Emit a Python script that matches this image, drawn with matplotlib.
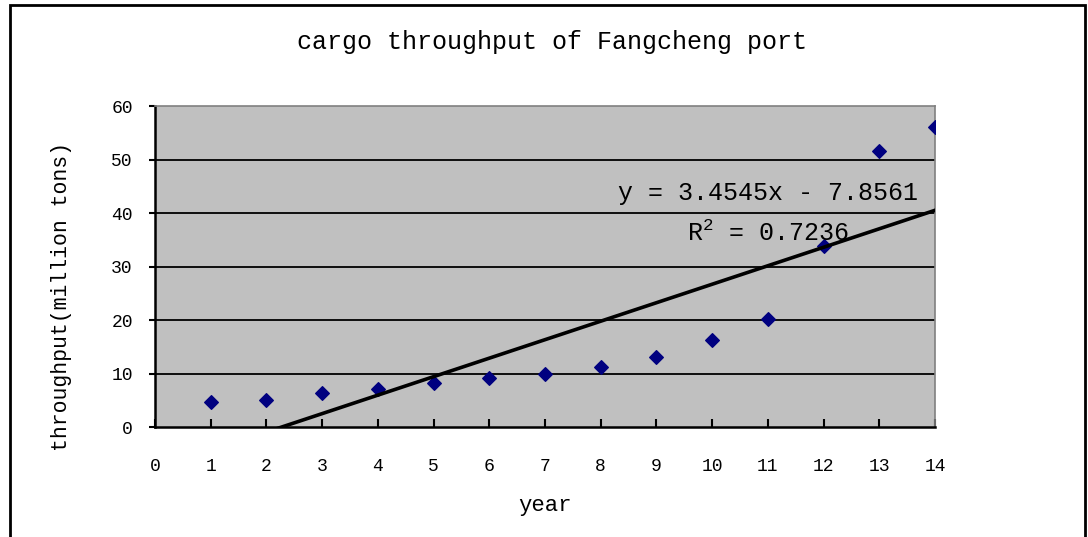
import matplotlib.pyplot as plt
import numpy as np
from matplotlib.patches import Rectangle

plt.rcParams['font.family'] = ['Liberation Mono', 'DejaVu Sans']
plt.rcParams['mathtext.fontset'] = 'custom'
plt.rcParams['mathtext.rm'] = 'Liberation Mono'

# data
years = [1, 2, 3, 4, 5, 6, 7, 8, 9, 10, 11, 12, 13, 14]
throughput = [4.6, 5.0, 6.3, 7.1, 8.2, 9.2, 9.9, 11.3, 13.1, 16.3, 20.1, 33.8, 51.5, 56.0]
slope = 3.4545
intercept = -7.8561
r2 = 0.7236

fig = plt.figure(figsize=(10.88, 5.37), dpi=100)
ax = fig.add_axes([0.1425, 0.2048, 0.7169, 0.5978])
ax.set_facecolor('#C0C0C0')

ax.scatter(years, throughput, marker='D', s=48, color='#000080', zorder=3)

xt = np.array([years[0], years[-1]])
ax.plot(xt, slope * xt + intercept, color='black', lw=2.6, zorder=4)

ax.set_xlim(0, 14)
ax.set_ylim(0, 60)
ax.set_xticks(np.arange(0, 15, 1))
ax.set_yticks(np.arange(0, 61, 10))
for v in range(10, 60, 10):
    ax.axhline(v, color='black', lw=1.3, zorder=1)

for s in ['top', 'right']:
    ax.spines[s].set_color('#808080')
    ax.spines[s].set_linewidth(1.2)
for s in ['left', 'bottom']:
    ax.spines[s].set_color('black')
    ax.spines[s].set_linewidth(1.8)

ax.tick_params(axis='x', direction='in', length=6, width=1.5, labelsize=13, pad=22)
ax.tick_params(axis='y', direction='out', length=4, width=1.5, labelsize=13, pad=12)

ax.set_xlabel('year', fontsize=16, labelpad=15)
ax.set_ylabel('throughput(million tons)', fontsize=15.5)
ax.yaxis.set_label_coords(-0.106, 0.408)
fig.suptitle('cargo throughput of Fangcheng port', fontsize=18, x=0.507, y=0.945)

ax.text(11.0, 43.7, 'y = %.4fx - %.4f' % (slope, -intercept), fontsize=18,
        ha='center', va='center', zorder=5)
ax.text(11.0, 36.3, 'R$^2$ = %.4f' % r2, fontsize=18, ha='center', va='center', zorder=5)

fig.patches.append(Rectangle((10 / 1088, -0.05), 1075 / 1088, 1 - 5 / 537 + 0.05,
                             transform=fig.transFigure, fill=False, edgecolor='black', lw=2))

fig.savefig('out.png', dpi=100)
